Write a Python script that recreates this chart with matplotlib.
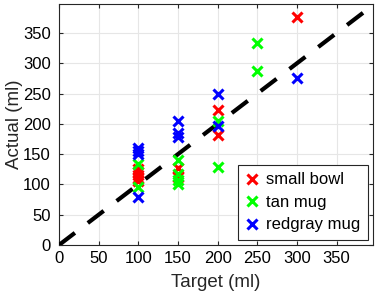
import matplotlib.pyplot as plt
import numpy as np

plt.rcParams['font.family'] = ['Liberation Sans', 'DejaVu Sans']

# data
bowl_x = [100, 100, 100, 100, 100, 150, 150, 200, 200, 300]
bowl_y = [125, 120, 115, 110, 106, 127, 112, 223, 182, 376]

tan_x = [100, 100, 150, 150, 150, 150, 200, 200, 250, 250]
tan_y = [134, 95, 140, 118, 108, 100, 204, 129, 333, 287]

red_x = [100, 100, 100, 100, 150, 150, 150, 200, 200, 300]
red_y = [160, 155, 150, 80, 205, 185, 179, 250, 197, 276]

ideal = [0, 385]
xticks = [0, 50, 100, 150, 200, 250, 300, 350]
yticks = [0, 50, 100, 150, 200, 250, 300, 350]

fig = plt.figure(figsize=(3.82, 2.94), dpi=100)
ax = fig.add_axes([59 / 382, 1 - 245 / 294, 314 / 382, 241 / 294])

ax.plot(ideal, ideal, color='black', linewidth=3, linestyle=(0, (4.8, 3.9)), zorder=3)
mk = dict(marker='x', linestyle='none', markersize=7.5, markeredgewidth=2.2, zorder=4)
ax.plot(bowl_x, bowl_y, color=(1, 0, 0), label='small bowl', **mk)
ax.plot(tan_x, tan_y, color=(0, 1, 0), label='tan mug', **mk)
ax.plot(red_x, red_y, color=(0, 0, 1), label='redgray mug', **mk)

ax.set_xlim(0, 396)
ax.set_ylim(0, 398)
ax.set_xticks(xticks)
ax.set_yticks(yticks)
ax.grid(True, color='#e6e6e6', linewidth=0.8)
ax.set_axisbelow(True)
ax.tick_params(direction='in', top=True, right=True, labelsize=12,
               color='#262626', length=3)
ax.tick_params(axis='x', pad=4)
ax.tick_params(axis='y', pad=6)
for s in ax.spines.values():
    s.set_color('#262626')
    s.set_linewidth(0.8)

ax.set_xlabel('Target (ml)', fontsize=13.5, labelpad=6, color='#262626')
ax.set_ylabel('Actual (ml)', fontsize=13.5, labelpad=0, color='#262626')

leg = ax.legend(loc='lower right', fontsize=12, handlelength=0.8, handletextpad=0.45,
                borderpad=0.45, labelspacing=0.45, fancybox=False, framealpha=1,
                edgecolor='#262626', borderaxespad=0.3)
leg.get_frame().set_linewidth(0.8)

fig.savefig('out.png', dpi=100)
